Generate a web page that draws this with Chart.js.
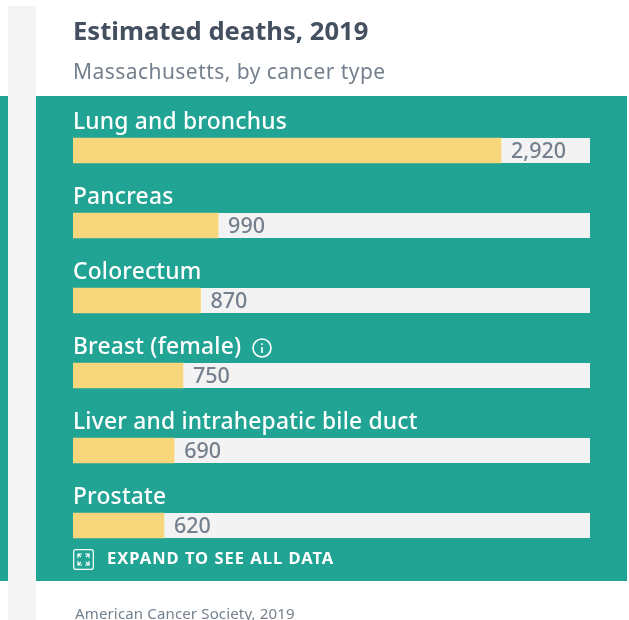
<!DOCTYPE html>
<html><head><meta charset="utf-8">
<script src="https://cdn.jsdelivr.net/npm/chart.js@4"></script>
<style>
html,body{margin:0;padding:0;background:#fff;overflow:hidden}
#page{position:relative;width:629px;height:620px;overflow:hidden;font-family:"Noto Sans",sans-serif}
#page>div,#page>svg,#page>canvas{position:absolute}
.t{white-space:nowrap}
</style></head><body>
<div id="page">
<div style="left:0;top:96px;width:8px;height:485px;background:#22a495"></div>
<div style="left:8px;top:6px;width:28px;height:614px;background:#f4f4f4"></div>
<div style="left:36px;top:96px;width:591px;height:485px;background:#22a495"></div>
<canvas id="c" width="629" height="620" style="left:0;top:0"></canvas>
<div class="t" style="left:73px;top:14px;font-size:25.6px;line-height:34px;font-weight:700;color:#44505f">Estimated deaths, 2019</div>
<div class="t" style="left:73px;top:57px;font-size:21px;line-height:28px;letter-spacing:.45px;color:#74808e">Massachusetts, by cancer type</div>
<svg style="left:251px;top:337px" width="22" height="22" viewBox="0 0 22 22" fill="none" stroke="#fff" stroke-width="1.6"><circle cx="11" cy="11" r="9"/><path d="M11 10v6M11 6.2v1.8"/></svg>
<svg style="left:73px;top:549px" width="21" height="21" viewBox="0 0 21 21" fill="none" stroke="#fff" stroke-width="1.2"><rect x=".7" y=".7" width="19.6" height="19.6" rx="2"/><path d="M5 9V5h4M12 5h4v4M5 12v4h4M16 12v4h-4M5 5l3 3M16 5l-3 3M5 16l3-3M16 16l-3-3"/></svg>
<div class="t" style="left:107px;top:546px;font-size:16.5px;line-height:24px;font-weight:700;letter-spacing:1px;color:#fff">EXPAND TO SEE ALL DATA</div>
<div class="t" style="left:75px;top:603px;font-size:15px;line-height:20px;letter-spacing:.15px;color:#74808e">American Cancer Society, 2019</div>
</div>
<script>
const categories = ["Lung and bronchus","Pancreas","Colorectum","Breast (female)","Liver and intrahepatic bile duct","Prostate"];
const deaths = [2920,990,870,750,690,620];
const valueLabels = ["2,920","990","870","750","690","620"];
const axisMax = 3527;

const trackAndLabels = {
  id:"trackAndLabels",
  beforeDraw(chart){ chart.ctx.letterSpacing="0.2px"; },
  beforeDatasetsDraw(chart){
    const {ctx,chartArea:a} = chart, meta = chart.getDatasetMeta(0);
    ctx.save(); ctx.fillStyle="#f3f3f3";
    meta.data.forEach(b=>{ctx.fillRect(a.left,b.y-b.height/2,a.right-a.left,b.height);});
    ctx.restore();
  },
  afterDatasetsDraw(chart){
    const {ctx} = chart, meta = chart.getDatasetMeta(0);
    ctx.save(); ctx.letterSpacing="0px"; ctx.fillStyle="#74808e"; ctx.font='500 21.5px "Noto Sans"';
    ctx.textBaseline="middle"; ctx.textAlign="left";
    meta.data.forEach((b,i)=>ctx.fillText(valueLabels[i],b.x+10,b.y+1));
    ctx.restore();
  }
};
new Chart(document.getElementById("c"),{
  type:"bar",
  data:{labels:categories,datasets:[{data:deaths,backgroundColor:"#f8d77c",borderWidth:0,barThickness:25,borderSkipped:false}]},
  options:{
    indexAxis:"y",responsive:false,animation:false,
    layout:{padding:{left:73,right:39,top:113,bottom:57}},
    plugins:{legend:{display:false},tooltip:{enabled:false}},
    scales:{
      x:{display:false,min:0,max:axisMax},
      y:{grid:{display:false,drawTicks:false,tickLength:0},border:{display:false},
         ticks:{mirror:true,padding:0,labelOffset:-27.5,color:"#fff",font:{family:'"Noto Sans"',size:22.8,weight:"500"}}}
    }
  },
  plugins:[trackAndLabels]
});
</script>
</body></html>
